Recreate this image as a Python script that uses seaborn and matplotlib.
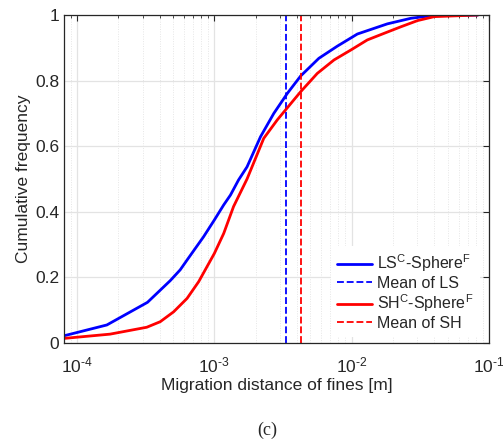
import numpy as np
import pandas as pd
import matplotlib
matplotlib.use("Agg")
import matplotlib.pyplot as plt
import matplotlib.ticker as mticker
import seaborn as sns

# ---- data ----
ls_x = [8.04e-5, 1.65e-4, 3.26e-4, 4.77e-4, 5.64e-4, 6.33e-4, 8.35e-4, 1.0e-3, 1.17e-3,
        1.31e-3, 1.50e-3, 1.73e-3, 2.17e-3, 2.71e-3, 3.4e-3, 4.25e-3, 5.77e-3, 7.86e-3,
        1.1e-2, 1.82e-2, 2.7e-2, 4.0e-2, 8.3e-2]
ls_y = [0.022, 0.055, 0.124, 0.19, 0.223, 0.253, 0.324, 0.375, 0.421,
        0.451, 0.497, 0.537, 0.629, 0.70, 0.761, 0.814, 0.868, 0.905,
        0.942, 0.973, 0.99, 0.999, 1.0]
sh_x = [8.04e-5, 1.74e-4, 3.22e-4, 4.04e-4, 5.05e-4, 6.33e-4, 7.69e-4, 1.0e-3, 1.17e-3,
        1.38e-3, 1.73e-3, 2.29e-3, 2.87e-3, 3.79e-3, 4.25e-3, 5.62e-3, 7.44e-3, 9.84e-3,
        1.3e-2, 1.72e-2, 2.28e-2, 3.02e-2, 3.99e-2, 8.3e-2]
sh_y = [0.014, 0.027, 0.048, 0.065, 0.095, 0.136, 0.187, 0.273, 0.334,
        0.416, 0.50, 0.624, 0.68, 0.741, 0.766, 0.822, 0.863, 0.893,
        0.924, 0.944, 0.964, 0.983, 0.995, 1.0]
mean_ls = 3.33e-3
mean_sh = 4.25e-3

labels = [r"LS$^{\mathrm{C}}$-Sphere$^{\mathrm{F}}$", "Mean of LS",
          r"SH$^{\mathrm{C}}$-Sphere$^{\mathrm{F}}$", "Mean of SH"]
x_label = "Migration distance of fines [m]"
y_label = "Cumulative frequency"
y_ticks = [0, 0.2, 0.4, 0.6, 0.8, 1]
caption = "(c)"

sns.set_style("white")
plt.rcParams["font.family"] = ["Liberation Sans", "DejaVu Sans"]
plt.rcParams["mathtext.fontset"] = "custom"
plt.rcParams["mathtext.rm"] = "Liberation Sans"
plt.rcParams["mathtext.it"] = "Liberation Sans:italic"
plt.rcParams["mathtext.bf"] = "Liberation Sans:bold"
plt.rcParams["mathtext.default"] = "regular"

fig = plt.figure(figsize=(5.03, 4.42), dpi=100)
ax = fig.add_axes([64 / 503, 1 - 343 / 442, (489 - 64) / 503, (343 - 15) / 442])

df_ls = pd.DataFrame({"x": ls_x, "y": ls_y})
df_sh = pd.DataFrame({"x": sh_x, "y": sh_y})

dash = (0, (3.8, 1.6))
sns.lineplot(data=df_ls, x="x", y="y", ax=ax, color=(0, 0, 1), lw=2.0,
             estimator=None, sort=False, label=labels[0])
ax.axvline(mean_ls, color=(0, 0, 1), lw=1.3, ls=dash, label=labels[1])
sns.lineplot(data=df_sh, x="x", y="y", ax=ax, color=(1, 0, 0), lw=2.0,
             estimator=None, sort=False, label=labels[2])
ax.axvline(mean_sh, color=(1, 0, 0), lw=1.3, ls=dash, label=labels[3])

ax.set_xscale("log")
ax.set_xlim(8.04e-5, 1e-1)
ax.set_ylim(0, 1)
ax.set_yticks(y_ticks)
ax.yaxis.set_major_formatter(mticker.FuncFormatter(lambda v, p: "%g" % v))
ax.xaxis.set_major_locator(mticker.LogLocator(base=10, numticks=10))
ax.xaxis.set_major_formatter(mticker.FuncFormatter(
    lambda v, p: r"$10^{\text{-%d}}$" % round(-np.log10(v))))
ax.xaxis.set_minor_locator(mticker.LogLocator(base=10, subs=np.arange(2, 10), numticks=20))
ax.xaxis.set_minor_formatter(mticker.NullFormatter())

ax.grid(True, which="major", color="#e3e3e3", lw=0.9, ls="-")
ax.grid(True, which="minor", axis="x", color="#e6e6e6", lw=0.7, ls=(0, (1, 1.5)))
ax.set_axisbelow(True)

ax.tick_params(which="both", direction="in", top=True, right=True, colors="#262626",
               labelcolor="#262626")
ax.tick_params(which="major", length=4.5, width=0.8, labelsize=12.5)
ax.tick_params(which="minor", length=2.5, width=0.6)
ax.tick_params(axis="x", which="major", pad=9)
for s in ax.spines.values():
    s.set_color("#262626")
    s.set_linewidth(0.9)

ax.set_xlabel(x_label, fontsize=12.5, color="#262626", labelpad=2)
ax.set_ylabel(y_label, fontsize=12.5, color="#262626", labelpad=3)

leg = ax.legend(loc="lower right", bbox_to_anchor=(1 + 3.5 / 425, -7 / 328),
                fontsize=11.5, frameon=True, facecolor="white",
                edgecolor="none", framealpha=1, handlelength=2.2, handletextpad=0.3,
                labelspacing=0.1, borderaxespad=0.8, fancybox=False)

fig.text(267 / 503, 1 - 430 / 442, caption, ha="center", va="center",
         fontsize=13, family=["Liberation Serif", "DejaVu Serif"])

fig.savefig("out.png", dpi=100)
